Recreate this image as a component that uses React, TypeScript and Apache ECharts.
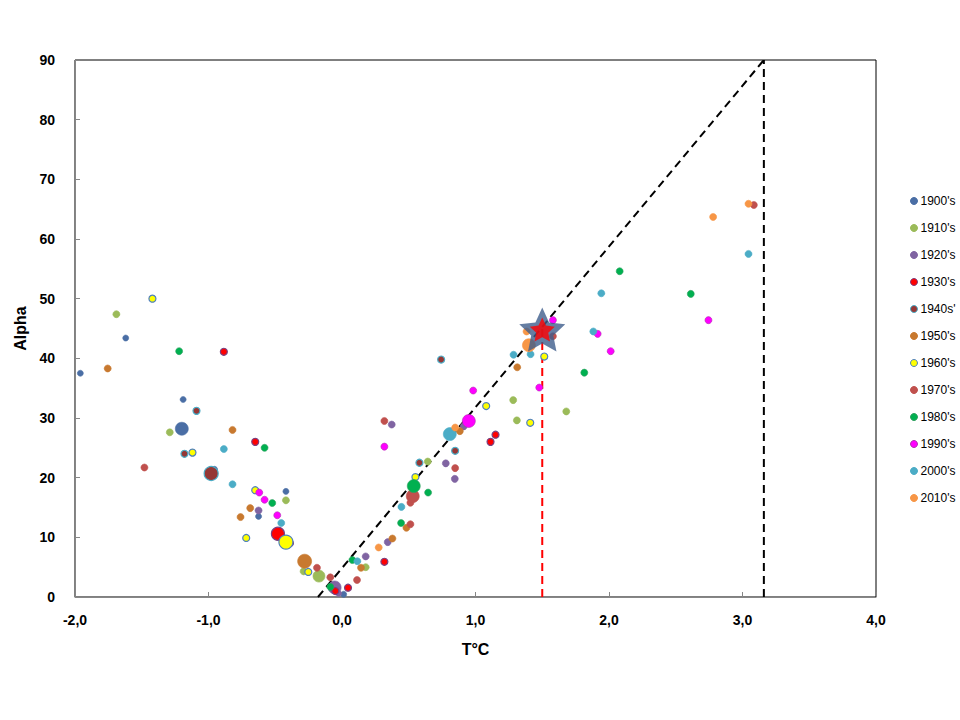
import React, { useEffect, useRef } from "react";
import * as echarts from "echarts";

// [T°C, Alpha, markerSize]
const d1900: number[][] = [[-1.96,37.5,6],[-1.62,43.4,6],[-1.19,33.1,6],[-1.2,28.2,13],[-0.955,21.4,6],[-0.42,17.7,6],[-0.625,13.5,6],[-0.40,9.4,7],[0.0125,0.45,6]];
const d1910: number[][] = [[-1.69,47.4,7],[-1.29,27.6,7],[-0.42,16.2,7],[-0.2875,4.3,7],[-0.1725,3.5,12],[0.1775,5.0,7],[0.6425,22.7,7],[1.2825,33.0,7],[1.31,29.6,7],[1.68,31.1,7]];
const d1920: number[][] = [[-0.625,14.5,7],[-0.055,1.6,13],[-0.025,0.6,6],[0.1775,6.8,7],[0.3425,9.2,7],[0.3725,28.9,7],[0.7775,22.4,7],[0.845,19.8,7],[0.912,28.6,7]];
const d1930: number[][] = [[-0.885,41.1,7],[-0.65,26.0,7],[-0.48,10.6,13],[-0.39,9.0,7],[-0.05,1.0,7],[0.045,1.56,7],[0.3175,5.9,7],[1.1125,26.0,7],[1.15,27.2,7]];
const d1940: number[][] = [[-1.09,31.2,7],[-1.18,24.0,7],[-0.98,20.7,14],[0.58,22.5,7],[0.8475,24.5,7],[0.7425,39.8,7]];
const d1950: number[][] = [[-1.755,38.3,7],[-0.82,28.0,7],[-0.6875,14.9,7],[-0.76,13.4,7],[-0.28,6.0,14],[0.1425,4.9,7],[0.3775,9.8,7],[0.4825,11.6,7],[0.8825,27.8,7],[1.3125,38.5,7]];
const d1960: number[][] = [[-1.42,50.0,7],[-1.12,24.2,7],[-0.65,17.9,7],[-0.7175,9.9,7],[-0.42,9.2,14],[-0.2525,4.2,7],[0.55,20.1,7],[1.08,32.0,7],[1.41,29.2,7],[1.515,40.3,7]];
const d1970: number[][] = [[-1.48,21.7,7],[-0.1875,4.9,7],[-0.0875,3.3,7],[0.1125,2.85,7],[0.3175,29.5,7],[0.5125,12.2,7],[0.5125,15.8,7],[0.53,16.9,13],[0.8475,21.6,7],[1.58,43.7,7],[3.085,65.7,7]];
const d1980: number[][] = [[-1.22,41.2,7],[-0.58,25.0,7],[-0.5225,15.75,7],[-0.0875,1.7,7],[0.0775,6.2,7],[0.4425,12.4,7],[0.5375,18.6,13],[0.645,17.5,7],[1.815,37.6,7],[2.08,54.6,7],[2.6125,50.8,7]];
const d1990: number[][] = [[-0.62,17.5,7],[-0.58,16.3,7],[-0.485,13.7,7],[0.3175,25.2,7],[0.95,29.5,13],[0.9825,34.6,7],[1.4775,35.1,7],[1.58,46.4,7],[1.915,44.1,7],[2.0125,41.2,7],[2.745,46.4,7]];
const d2000: number[][] = [[-0.885,24.8,7],[-0.82,18.9,7],[-0.455,12.4,7],[0.115,6.0,7],[0.445,15.1,7],[0.8075,27.3,13],[1.285,40.6,7],[1.4125,40.7,7],[1.8825,44.5,7],[1.9425,50.9,7],[3.045,57.5,7]];
const d2010: number[][] = [[0.275,8.3,7],[0.8475,28.4,7],[1.3825,44.5,7],[1.4,42.2,13],[2.78,63.7,7],[3.045,65.9,7]];

const starPoint: number[][] = [[1.5, 45]];
const trendLine: number[][] = [[-0.18, 0], [3.16, 90]];
const limitLine: number[][] = [[3.16, 0], [3.16, 90]];
const markLine: number[][] = [[1.5, 0], [1.5, 45]];

const seriesNames = ["1900's","1910's","1920's","1930's","1940s'","1950's","1960's","1970's","1980's","1990's","2000's","2010's"];
const seriesData = [d1900,d1910,d1920,d1930,d1940,d1950,d1960,d1970,d1980,d1990,d2000,d2010];
const fills = ["#4A6EA5","#9BBB59","#8064A2","#FF0000","#953735","#C8792F","#FFFF00","#C0504D","#00B050","#FF00FF","#4BACC6","#F79646"];
const borders = ["#4A6EA5","#9BBB59","#8064A2","#7A3F7F","#4BACC6","#C8792F","#4F81BD","#C0504D","#2F9F5F","#B030B0","#4BACC6","#F79646"];

const STAR = "path://M50,0 L64.11,30.58 L97.55,34.55 L72.83,57.42 L79.39,90.45 L50,74 L20.61,90.45 L27.17,57.42 L2.45,34.55 L35.89,30.58 Z";

export default function App() {
  const ref = useRef<HTMLDivElement>(null);
  useEffect(() => {
    if (!ref.current) return;
    const chart = echarts.init(ref.current, null, { renderer: "svg" });
    const font = "'Liberation Sans', Arial, sans-serif";
    const scatter = seriesNames.map((name, i) => ({
      name,
      type: "scatter",
      data: seriesData[i],
      symbol: "circle",
      symbolSize: (v: number[]) => v[2],
      itemStyle: { color: fills[i], borderColor: borders[i], borderWidth: i === 3 || i === 4 || i === 6 ? 1.2 : 0.6, opacity: 1 },
      z: 3,
    }));
    chart.setOption({
      animation: false,
      backgroundColor: "#ffffff",
      grid: { left: 75, right: 84, top: 60, bottom: 123, show: true, borderColor: "#000000", borderWidth: 1 },
      legend: {
        orient: "vertical",
        left: 905,
        top: 190,
        data: seriesNames.map((n, i) => ({ name: n, itemStyle: { color: fills[i], borderColor: borders[i], borderWidth: 1 } })),
        icon: "circle",
        itemWidth: 7,
        itemHeight: 7,
        itemGap: 15,
        textStyle: { fontFamily: font, fontSize: 12, color: "#000", padding: [0, 0, 0, -2] },
      },
      xAxis: {
        type: "value",
        min: -2,
        max: 4,
        interval: 1,
        name: "T°C",
        nameLocation: "middle",
        nameGap: 44,
        nameTextStyle: { fontFamily: font, fontSize: 16, fontWeight: "bold", color: "#000" },
        axisLine: { show: true, onZero: false, lineStyle: { color: "#868686", width: 1 } },
        axisTick: { show: true, inside: true, length: 5, lineStyle: { color: "#868686" } },
        axisLabel: { fontFamily: font, fontSize: 14, fontWeight: "bold", color: "#000", margin: 16, formatter: (v: number) => v.toFixed(1).replace(".", ",") },
        splitLine: { show: false },
      },
      yAxis: {
        type: "value",
        min: 0,
        max: 90,
        interval: 10,
        name: "Alpha",
        nameLocation: "middle",
        nameGap: 44,
        nameTextStyle: { fontFamily: font, fontSize: 16, fontWeight: "bold", color: "#000" },
        axisLine: { show: true, onZero: false, lineStyle: { color: "#868686", width: 1 } },
        axisTick: { show: true, inside: true, length: 5, lineStyle: { color: "#868686" } },
        axisLabel: { fontFamily: font, fontSize: 14, fontWeight: "bold", color: "#000", margin: 20 },
        splitLine: { show: false },
      },
      series: [
        {
          type: "line",
          data: trendLine,
          symbol: "none",
          lineStyle: { color: "#000", width: 2, type: [8, 5] },
          z: 2,
          silent: true,
        },
        {
          type: "line",
          data: limitLine,
          symbol: "none",
          lineStyle: { color: "#000", width: 2, type: [8, 5] },
          z: 2,
          silent: true,
        },
        {
          type: "line",
          data: markLine,
          symbol: "none",
          lineStyle: { color: "#FF0000", width: 2, type: [8, 5] },
          z: 2,
          silent: true,
        },
        ...scatter,
        {
          type: "scatter",
          data: starPoint,
          symbol: STAR,
          symbolSize: [46, 44],
          symbolOffset: [0, 1],
          itemStyle: { color: "#3E5E8C" },
          z: 5,
        },
        {
          type: "scatter",
          data: starPoint,
          symbol: STAR,
          symbolSize: [25, 24],
          symbolOffset: [0, 1],
          itemStyle: { color: "#FF0000" },
          z: 6,
        },
      ],
    });
    return () => chart.dispose();
  }, []);
  return <div ref={ref} style={{ width: 960, height: 720, position: "absolute", left: 0, top: 0 }} />;
}
